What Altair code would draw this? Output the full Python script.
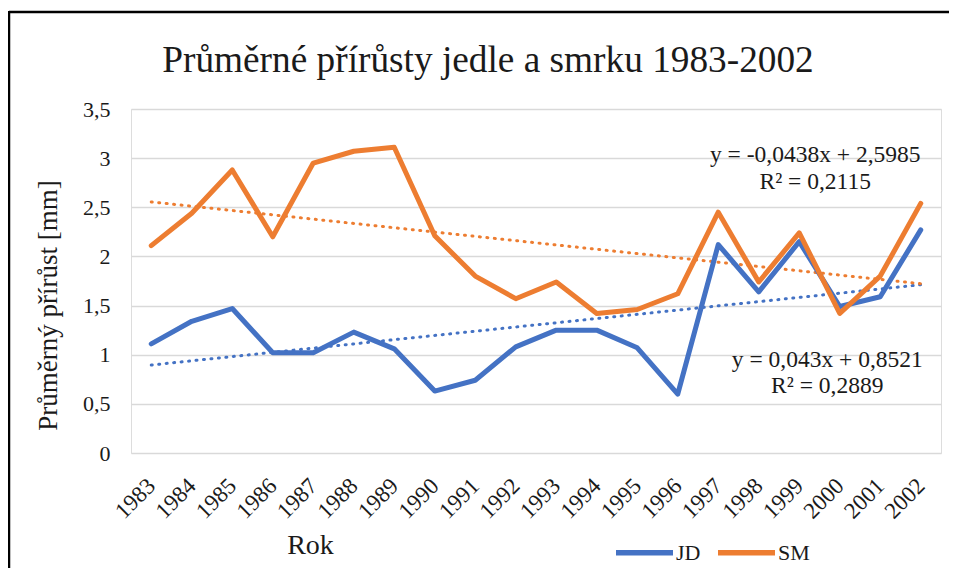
import altair as alt
import pandas as pd

years = [str(y) for y in range(1983, 2003)]
jd = [1.11, 1.34, 1.47, 1.02, 1.02, 1.23, 1.06, 0.63, 0.74, 1.08,
      1.25, 1.25, 1.07, 0.60, 2.12, 1.64, 2.15, 1.49, 1.59, 2.27]
sm = [2.11, 2.44, 2.88, 2.20, 2.95, 3.07, 3.11, 2.21, 1.80, 1.57,
      1.74, 1.42, 1.46, 1.62, 2.45, 1.74, 2.24, 1.42, 1.80, 2.54]
series = ["JD", "SM"]
colors = ["#4472C4", "#ED7D31"]
# Excel trendline equations shown in the chart
trend_slope = {"JD": 0.043, "SM": -0.0438}
trend_icpt = {"JD": 0.8521, "SM": 2.5985}
eq_text = {
    "SM": ["y = -0,0438x + 2,5985", "R² = 0,2115"],
    "JD": ["y = 0,043x + 0,8521", "R² = 0,2889"],
}
eq_anchor = {"SM": ("1999", 16, [3.03, 2.76]), "JD": ("1999", 28, [0.95, 0.68])}
title_text = "Průměrné  přírůsty  jedle a smrku 1983-2002"

FONT = "Liberation Serif"
TXT = "#1a1a1a"

rows = []
for i, yr in enumerate(years):
    rows.append({"Rok": yr, "series": "JD", "value": jd[i]})
    rows.append({"Rok": yr, "series": "SM", "value": sm[i]})
df = pd.DataFrame(rows)

trows = []
for s, c in zip(series, colors):
    for i, yr in enumerate(years):
        trows.append({"Rok": yr, "series": s, "col": c,
                      "trend": trend_slope[s] * (i + 1) + trend_icpt[s]})
tdf = pd.DataFrame(trows)

xenc = alt.X("Rok:O", sort=years, scale=alt.Scale(type="point", padding=0.5),
             axis=alt.Axis(title="Rok", labelAngle=-45, labelAlign="right",
                           labelBaseline="middle", labelPadding=29,
                           ticks=False, domain=False, grid=False,
                           labelFont=FONT, labelFontSize=23, labelColor=TXT,
                           titleFont=FONT, titleFontSize=28, titleFontWeight="normal",
                           titleColor=TXT, titleX=179, titleY=92,
                           titleBaseline="middle", titleAlign="center"))

yenc = alt.Y("value:Q", scale=alt.Scale(domain=[0, 3.5]),
             axis=alt.Axis(title="Průměrný přírůst [mm]",
                           values=[0, 0.5, 1, 1.5, 2, 2.5, 3, 3.5],
                           labelExpr="replace(toString(datum.value), '.', ',')",
                           ticks=False, domain=False, grid=True,
                           gridColor="#D9D9D9", gridWidth=1.4,
                           labelPadding=21, labelFont=FONT, labelFontSize=22,
                           labelColor=TXT,
                           titleFont=FONT, titleFontSize=27, titleFontWeight="normal",
                           titleColor=TXT, titleX=-83, titleY=196,
                           titleBaseline="middle", titleAlign="center", titleAngle=-90))

lines = alt.Chart(df).mark_line(strokeWidth=5, strokeCap="round", strokeJoin="round").encode(
    x=xenc, y=yenc,
    color=alt.Color("series:N", scale=alt.Scale(domain=series, range=colors),
                    legend=alt.Legend(title=None, orient="none", direction="horizontal",
                                      legendX=482, legendY=412, symbolType="stroke",
                                      symbolSize=3249, symbolStrokeWidth=5.5,
                                      labelFont=FONT, labelFontSize=22,
                                      labelColor=TXT, labelOffset=0,
                                      columnPadding=6)),
)

trend = alt.Chart(tdf).mark_line(strokeWidth=3, strokeDash=[1, 6.5], strokeCap="round").encode(
    x=alt.X("Rok:O", sort=years),
    y=alt.Y("trend:Q"),
    color=alt.Color("col:N", scale=None),
    detail="series:N",
)

eq_layers = []
for s in series:
    yr, dx, ys = eq_anchor[s]
    edf = pd.DataFrame({"Rok": [yr, yr], "y": ys, "txt": eq_text[s]})
    eq_layers.append(
        alt.Chart(edf).mark_text(font=FONT, fontSize=23.5, color=TXT, align="center",
                                 baseline="middle", dx=dx).encode(
            x=alt.X("Rok:O", sort=years),
            y=alt.Y("y:Q"),
            text="txt:N",
        )
    )

title = alt.Chart(pd.DataFrame({"t": [title_text]})).mark_text(
    font=FONT, fontSize=37.3, color=TXT, align="center", baseline="alphabetic").encode(
    x=alt.value(357), y=alt.value(-37), text="t:N")

frame_top = alt.Chart(pd.DataFrame({"a": [0]})).mark_rule(color="black", strokeWidth=2.5).encode(
    x=alt.value(-122), x2=alt.value(830), y=alt.value(-97))
frame_left = alt.Chart(pd.DataFrame({"a": [0]})).mark_rule(color="black", strokeWidth=2.5).encode(
    x=alt.value(-122), y=alt.value(-98), y2=alt.value(470))

chart = alt.layer(trend, lines, *eq_layers, title, frame_top, frame_left).properties(
    width=810, height=344,
    autosize=alt.AutoSizeParams(type="none"),
    padding={"left": 123, "top": 101, "right": 8, "bottom": 115},
).configure_view(stroke=None).configure(background="white").configure_legend(
    labelFont=FONT, labelFontSize=22, labelColor=TXT)

chart.save("out.html", embed_options={"renderer": "svg", "actions": False})
